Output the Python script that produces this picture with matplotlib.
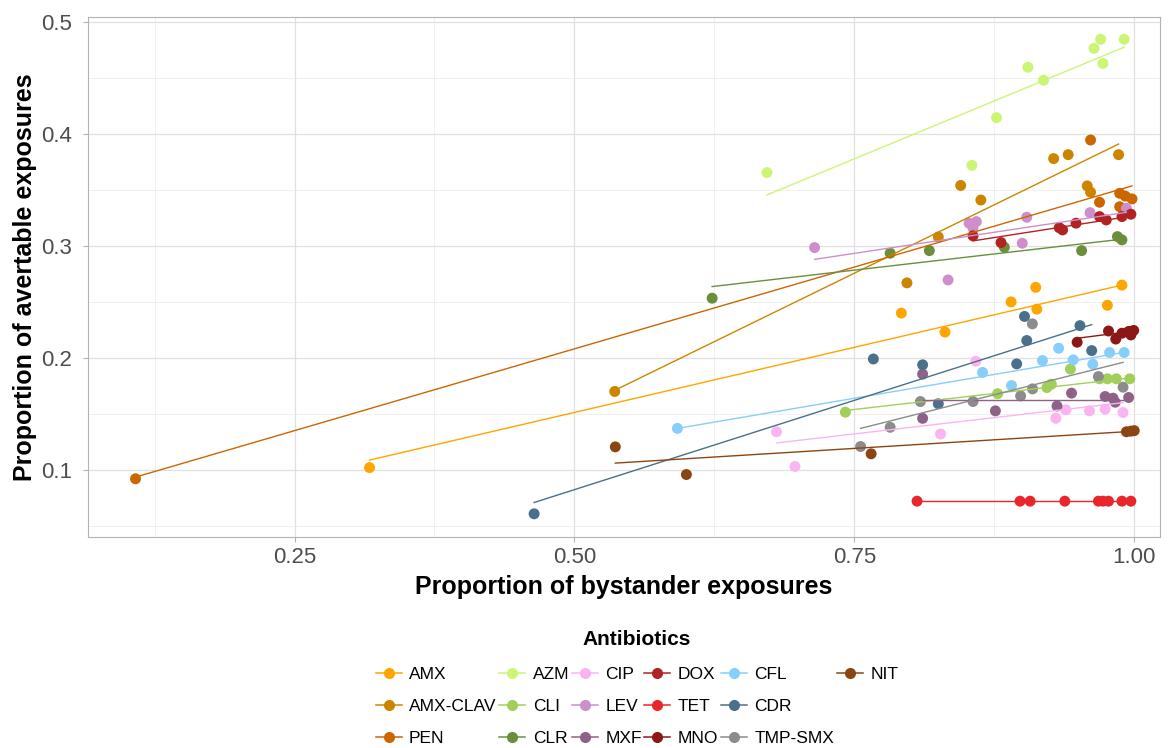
import numpy as np
import matplotlib
matplotlib.use("Agg")
import matplotlib.pyplot as plt
from matplotlib.lines import Line2D
from matplotlib.ticker import MultipleLocator

plt.rcParams['font.family'] = ['Liberation Sans', 'DejaVu Sans']

# --- data ---
antibiotics = ["AMX", "AMX-CLAV", "PEN", "AZM", "CLI", "CLR", "CIP", "LEV", "MXF",
               "DOX", "TET", "MNO", "CFL", "CDR", "TMP-SMX", "NIT"]
colors = ["#FFA500", "#CD8500", "#CC6600", "#CCF576", "#A2CF5A", "#6B8E3A",
          "#FBB4F2", "#CC8FCC", "#8E6189", "#B22222", "#E8262B", "#8B1717",
          "#87CEFA", "#4A708B", "#8C8C8C", "#8B4513"]

amx_x = [0.317, 0.792, 0.831, 0.890, 0.912, 0.913, 0.976, 0.989]
amx_y = [0.102, 0.240, 0.223, 0.250, 0.263, 0.2435, 0.247, 0.265]
amxclav_x = [0.536, 0.797, 0.825, 0.845, 0.863, 0.928, 0.941, 0.958, 0.961, 0.986]
amxclav_y = [0.170, 0.267, 0.308, 0.354, 0.341, 0.378, 0.3815, 0.3536, 0.348, 0.3815]
pen_x = [0.108, 0.961, 0.969, 0.987, 0.992, 0.998, 0.987]
pen_y = [0.092, 0.3946, 0.339, 0.347, 0.3445, 0.342, 0.335]
azm_x = [0.672, 0.855, 0.877, 0.905, 0.919, 0.964, 0.970, 0.972, 0.991]
azm_y = [0.3655, 0.372, 0.4146, 0.4596, 0.448, 0.4765, 0.4846, 0.463, 0.4846]
cli_x = [0.742, 0.878, 0.922, 0.926, 0.943, 0.969, 0.976, 0.984, 0.996]
cli_y = [0.1515, 0.168, 0.1735, 0.1765, 0.190, 0.1813, 0.1813, 0.1813, 0.1813]
clr_x = [0.623, 0.782, 0.817, 0.884, 0.953, 0.985, 0.989]
clr_y = [0.2533, 0.2935, 0.2958, 0.2988, 0.2958, 0.3083, 0.3054]
cip_x = [0.6805, 0.697, 0.827, 0.8585, 0.930, 0.939, 0.960, 0.974, 0.990]
cip_y = [0.134, 0.103, 0.132, 0.197, 0.146, 0.1536, 0.1527, 0.1542, 0.1512]
lev_x = [0.7145, 0.8337, 0.8525, 0.859, 0.856, 0.900, 0.904, 0.9605, 0.993]
lev_y = [0.2985, 0.2696, 0.3203, 0.3217, 0.316, 0.3024, 0.3256, 0.3297, 0.3336]
mxf_x = [0.811, 0.811, 0.876, 0.931, 0.944, 0.974, 0.981, 0.983, 0.995]
mxf_y = [0.1855, 0.146, 0.1527, 0.157, 0.1685, 0.1655, 0.164, 0.1604, 0.1646]
dox_x = [0.856, 0.881, 0.933, 0.936, 0.948, 0.969, 0.975, 0.989, 0.997]
dox_y = [0.309, 0.303, 0.3163, 0.3143, 0.3203, 0.3262, 0.3232, 0.3262, 0.3283]
tet_x = [0.806, 0.898, 0.907, 0.938, 0.968, 0.972, 0.977, 0.989, 0.997]
tet_y = [0.072, 0.072, 0.072, 0.072, 0.072, 0.072, 0.072, 0.072, 0.072]
mno_x = [0.949, 0.977, 0.9835, 0.989, 0.995, 0.9995, 0.997]
mno_y = [0.214, 0.224, 0.2168, 0.222, 0.2236, 0.2245, 0.2205]
cfl_x = [0.592, 0.8645, 0.8904, 0.918, 0.9325, 0.9455, 0.963, 0.978, 0.991]
cfl_y = [0.137, 0.187, 0.1753, 0.1976, 0.2086, 0.1982, 0.1944, 0.2048, 0.2048]
cdr_x = [0.464, 0.767, 0.811, 0.825, 0.895, 0.902, 0.904, 0.9515, 0.962]
cdr_y = [0.0607, 0.199, 0.1938, 0.159, 0.1946, 0.237, 0.2155, 0.2288, 0.2065]
tmp_x = [0.7556, 0.782, 0.809, 0.856, 0.8985, 0.909, 0.9092, 0.968, 0.990]
tmp_y = [0.1208, 0.138, 0.161, 0.161, 0.166, 0.2304, 0.1723, 0.1833, 0.1738]
nit_x = [0.5365, 0.600, 0.765, 0.993, 0.997, 1.0]
nit_y = [0.1205, 0.0958, 0.1143, 0.134, 0.1345, 0.135]

# fitted trend line: y at min(x) and y at max(x) of each series
fit_start = [0.1087, 0.171, 0.0935, 0.3455, 0.153, 0.2637, 0.124, 0.288, 0.1625,
             0.3045, 0.072, 0.2175, 0.137, 0.0708, 0.137, 0.106]
fit_end = [0.265, 0.391, 0.3536, 0.4775, 0.182, 0.306, 0.160, 0.330, 0.1625,
           0.3265, 0.072, 0.224, 0.205, 0.2297, 0.196, 0.1345]

xs = [amx_x, amxclav_x, pen_x, azm_x, cli_x, clr_x, cip_x, lev_x, mxf_x,
      dox_x, tet_x, mno_x, cfl_x, cdr_x, tmp_x, nit_x]
ys = [amx_y, amxclav_y, pen_y, azm_y, cli_y, clr_y, cip_y, lev_y, mxf_y,
      dox_y, tet_y, mno_y, cfl_y, cdr_y, tmp_y, nit_y]

fig = plt.figure(figsize=(11.71, 7.48), dpi=100)
ax = fig.add_axes([0.0751, 0.2821, 0.9155, 0.6952])

for name, c, x, y, y0, y1 in zip(antibiotics, colors, xs, ys, fit_start, fit_end):
    ax.scatter(x, y, s=62, color=c, edgecolors='none', zorder=3)
    ax.plot([min(x), max(x)], [y0, y1], color=c, lw=1.0, zorder=4)

ax.set_xlim(0.0655, 1.023)
ax.set_ylim(0.040, 0.5045)
ax.xaxis.set_minor_locator(MultipleLocator(0.125))
ax.yaxis.set_minor_locator(MultipleLocator(0.05))
ax.set_xticks([0.25, 0.5, 0.75, 1.0])
ax.set_xticklabels(["0.25", "0.50", "0.75", "1.00"])
ax.set_yticks([0.1, 0.2, 0.3, 0.4, 0.5])
ax.set_yticklabels(["0.1", "0.2", "0.3", "0.4", "0.5"])

ax.grid(True, which='major', color='#E0E0E0', lw=0.9)
ax.grid(True, which='minor', color='#EEEEEE', lw=0.6)
ax.set_axisbelow(True)
for s in ax.spines.values():
    s.set_color('#B3B3B3')
    s.set_linewidth(0.8)
ax.tick_params(which='major', length=3.5, color='#B3B3B3', labelsize=16,
               labelcolor='#4D4D4D', pad=4)
ax.tick_params(axis='y', pad=8)
ax.tick_params(which='minor', length=0)

ax.set_xlabel("Proportion of bystander exposures", fontsize=18, fontweight='bold', labelpad=5)
ax.set_ylabel("Proportion of avertable exposures", fontsize=18, fontweight='bold', labelpad=3)

# legend: 6 columns of 3, filled column-wise
handles = [Line2D([0], [0], color=c, lw=1.1, marker='o', markersize=8, markeredgewidth=0)
           for c in colors]
labels = list(antibiotics)
handles += [Line2D([], [], alpha=0), Line2D([], [], alpha=0)]
labels += ["", ""]
leg = fig.legend(handles, labels, loc='upper center', bbox_to_anchor=(0.544, 0.178),
                 ncol=6, frameon=False, fontsize=12.5, title="Antibiotics",
                 title_fontproperties={'weight': 'bold', 'size': 15},
                 handlelength=1.5, handletextpad=0.43, columnspacing=0.15,
                 labelspacing=0.98)

fig.savefig("out.png", dpi=100)
